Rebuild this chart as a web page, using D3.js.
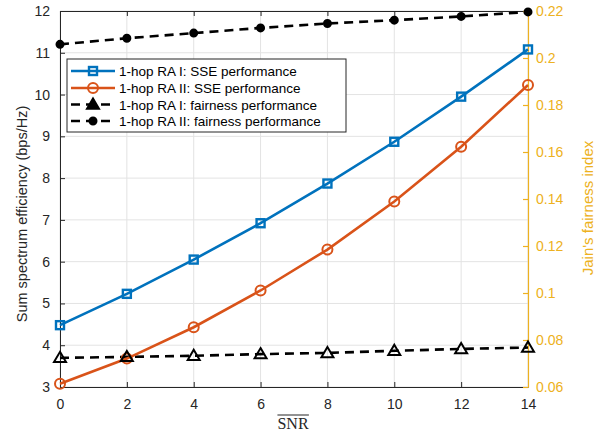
<!DOCTYPE html>
<html><head><meta charset="utf-8">
<script src="https://cdn.jsdelivr.net/npm/d3@7"></script>
<style>body{margin:0;background:#fff}svg{display:block;font-family:"Liberation Sans",Arial,sans-serif}</style>
</head><body>
<svg id="c" width="608" height="435"></svg>
<script>
const snr = [0, 2, 4, 6, 8, 10, 12, 14];
const sseRA1 = [4.48, 5.23, 6.05, 6.92, 7.87, 8.87, 9.95, 11.08];
const sseRA2 = [3.08, 3.68, 4.43, 5.31, 6.29, 7.44, 8.75, 10.23];
const fairRA1 = [0.0724, 0.0728, 0.0733, 0.0740, 0.0745, 0.0754, 0.0762, 0.0768];
const fairRA2 = [0.2058, 0.2084, 0.2106, 0.2128, 0.2147, 0.2161, 0.2177, 0.2196];
const xTicks = [0, 2, 4, 6, 8, 10, 12, 14];
const yLeftTicks = [3, 4, 5, 6, 7, 8, 9, 10, 11, 12];
const yRightTicks = [0.06, 0.08, 0.1, 0.12, 0.14, 0.16, 0.18, 0.2, 0.22];
const legendLabels = ["1-hop RA I: SSE performance", "1-hop RA II: SSE performance", "1-hop RA I: fairness performance", "1-hop RA II: fairness performance"];

const L = 60, R = 528, T = 11, B = 387;
const blue = "#0072BD", orange = "#D95319", yellow = "#EDB120";
const svg = d3.select("#c");
const x = d3.scaleLinear().domain([0, 14]).range([L, R]);
const yL = d3.scaleLinear().domain([3, 12]).range([B, T]);
const yR = d3.scaleLinear().domain([0.06, 0.22]).range([B, T]);

// grid
svg.append("g").selectAll("line").data(xTicks).join("line")
  .attr("x1", d => x(d)).attr("x2", d => x(d)).attr("y1", T).attr("y2", B)
  .attr("stroke", "#e3e3e3").attr("stroke-width", 1);
svg.append("g").selectAll("line").data(yLeftTicks).join("line")
  .attr("x1", L).attr("x2", R).attr("y1", d => yL(d)).attr("y2", d => yL(d))
  .attr("stroke", "#e3e3e3").attr("stroke-width", 1);

// axes
const fs = "14px";
const gx = svg.append("g").attr("transform", `translate(0,${B})`)
  .call(d3.axisBottom(x).tickValues(xTicks).tickSizeInner(-5).tickSizeOuter(0).tickPadding(12));
const gxt = svg.append("g").attr("transform", `translate(0,${T})`)
  .call(d3.axisTop(x).tickValues(xTicks).tickSizeInner(-5).tickSizeOuter(0).tickFormat(""));
const gyl = svg.append("g").attr("transform", `translate(${L},0)`)
  .call(d3.axisLeft(yL).tickValues(yLeftTicks).tickSizeInner(-5).tickSizeOuter(0).tickPadding(10));
const gyr = svg.append("g").attr("transform", `translate(${R},0)`)
  .call(d3.axisRight(yR).tickValues(yRightTicks).tickSizeInner(-5).tickSizeOuter(0).tickPadding(8).tickFormat(d => String(+d.toFixed(2))));
[gx, gxt, gyl].forEach(g => {
  g.selectAll("path,line").attr("stroke", "#262626").attr("stroke-width", 1);
  g.selectAll("text").attr("fill", "#262626").style("font-size", fs).style("font-family", "Liberation Sans, Arial, sans-serif");
});
gyr.selectAll("path,line").attr("stroke", yellow).attr("stroke-width", 1.2);
gyr.selectAll("text").attr("fill", yellow).style("font-size", fs).style("font-family", "Liberation Sans, Arial, sans-serif");

// labels
svg.append("text").attr("transform", `translate(27,214) rotate(-90)`)
  .attr("text-anchor", "middle").attr("fill", "#262626").style("font-size", "14.5px")
  .text("Sum spectrum efficiency (bps/Hz)");
svg.append("text").attr("transform", `translate(593,208) rotate(-90)`)
  .attr("text-anchor", "middle").attr("fill", yellow).style("font-size", "15px")
  .text("Jain's fairness index");
const xl = svg.append("text").attr("x", 293).attr("y", 429).attr("text-anchor", "middle")
  .attr("fill", "#262626").style("font-size", "16px").style("font-family", "Liberation Serif, Times New Roman, serif")
  .text("SNR");
const bb = xl.node().getBBox();
svg.append("line").attr("x1", bb.x).attr("x2", bb.x + bb.width).attr("y1", 415).attr("y2", 415)
  .attr("stroke", "#262626").attr("stroke-width", 1);

// series
const lineL = d3.line().x((d, i) => x(snr[i])).y(d => yL(d));
const lineR = d3.line().x((d, i) => x(snr[i])).y(d => yR(d));
const dash = "9,6";
function sq(g, cx, cy, col) {
  g.append("rect").attr("x", cx - 4).attr("y", cy - 4).attr("width", 8).attr("height", 8)
    .attr("fill", "none").attr("stroke", col).attr("stroke-width", 2.4);
}
function circ(g, cx, cy, col, fill, r) {
  g.append("circle").attr("cx", cx).attr("cy", cy).attr("r", r).attr("fill", fill)
    .attr("stroke", col).attr("stroke-width", 2);
}
function tri(g, cx, cy, fill) {
  const s = 6;
  g.append("path").attr("d", `M${cx},${cy - s}L${cx + s},${cy + s * 0.7}L${cx - s},${cy + s * 0.7}Z`)
    .attr("fill", fill).attr("stroke", "#000").attr("stroke-width", 2).attr("stroke-linejoin", "miter");
}
const plot = svg.append("g");
plot.append("path").datum(fairRA2).attr("d", lineR).attr("fill", "none").attr("stroke", "#000").attr("stroke-width", 2.6).attr("stroke-dasharray", dash);
plot.append("path").datum(fairRA1).attr("d", lineR).attr("fill", "none").attr("stroke", "#000").attr("stroke-width", 2.6).attr("stroke-dasharray", dash);
plot.append("path").datum(sseRA1).attr("d", lineL).attr("fill", "none").attr("stroke", blue).attr("stroke-width", 2.6);
plot.append("path").datum(sseRA2).attr("d", lineL).attr("fill", "none").attr("stroke", orange).attr("stroke-width", 2.6);
sseRA1.forEach((d, i) => sq(plot, x(snr[i]), yL(d), blue));
sseRA2.forEach((d, i) => circ(plot, x(snr[i]), yL(d), orange, "none", 5));
fairRA1.forEach((d, i) => tri(plot, x(snr[i]), yR(d), "none"));
fairRA2.forEach((d, i) => circ(plot, x(snr[i]), yR(d), "#000", "#000", 3.5));

// legend
const lg = svg.append("g");
lg.append("rect").attr("x", 67).attr("y", 59).attr("width", 279).attr("height", 73)
  .attr("fill", "#fff").attr("stroke", "#262626").attr("stroke-width", 1);
const ly = [71, 88, 104.5, 121];
legendLabels.forEach((t, i) => {
  const y0 = ly[i];
  lg.append("line").attr("x1", 71).attr("x2", 115).attr("y1", y0).attr("y2", y0)
    .attr("stroke", i === 0 ? blue : i === 1 ? orange : "#000").attr("stroke-width", 2.6)
    .attr("stroke-dasharray", i >= 2 ? dash : null);
  if (i === 0) sq(lg, 93, y0, blue);
  if (i === 1) circ(lg, 93, y0, orange, "none", 5);
  if (i === 2) tri(lg, 93, y0, "#000");
  if (i === 3) circ(lg, 93, y0, "#000", "#000", 3.5);
  lg.append("text").attr("x", 119).attr("y", y0 + 5).attr("fill", "#000").style("font-size", "13.5px").text(t);
});
</script>
</body></html>
